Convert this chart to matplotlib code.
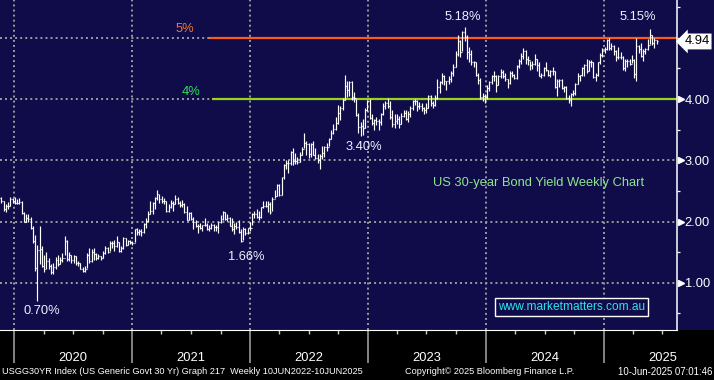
import numpy as np
import pandas as pd
import matplotlib
matplotlib.use('Agg')
import matplotlib.pyplot as plt
import matplotlib.dates as mdates
from matplotlib.patches import Rectangle
from matplotlib.transforms import blended_transform_factory

plt.rcParams['font.family'] = ['Liberation Sans', 'DejaVu Sans']

# Weekly bars of USGG30YR (week ending Friday)
first_week = '2019-11-22'
first_open = 2.38

high_2019 = [2.40, 2.34, 2.28, 2.32, 2.40, 2.38]
low_2019 = [2.30, 2.18, 2.16, 2.20, 2.25, 2.30]
close_2019 = [2.34, 2.21, 2.26, 2.25, 2.36, 2.33]

high_2020 = [2.40, 2.36, 2.38, 2.33, 2.15, 2.13, 2.12, 2.07, 1.92, 1.78, 1.62, 1.92, 1.60,
             1.45, 1.50, 1.40, 1.30, 1.32, 1.42, 1.45, 1.42, 1.48, 1.76, 1.70, 1.50, 1.46,
             1.45, 1.43, 1.36, 1.33, 1.26, 1.28, 1.48, 1.57, 1.55, 1.56, 1.48, 1.47, 1.44,
             1.52, 1.60, 1.58, 1.68, 1.68, 1.70, 1.77, 1.67, 1.60, 1.75, 1.73, 1.70, 1.70]
low_2020 = [2.28, 2.28, 2.28, 2.12, 1.99, 1.99, 2.00, 1.88, 1.65, 1.20, 0.70, 1.30, 1.25,
            1.18, 1.22, 1.23, 1.14, 1.15, 1.22, 1.28, 1.30, 1.34, 1.45, 1.36, 1.35, 1.32,
            1.33, 1.29, 1.28, 1.22, 1.17, 1.17, 1.24, 1.33, 1.34, 1.38, 1.38, 1.39, 1.38,
            1.40, 1.47, 1.48, 1.52, 1.56, 1.52, 1.58, 1.50, 1.51, 1.55, 1.60, 1.61, 1.64]
close_2020 = [2.30, 2.31, 2.32, 2.14, 2.00, 2.05, 2.04, 1.90, 1.68, 1.24, 1.53, 1.55, 1.27,
              1.23, 1.35, 1.28, 1.17, 1.26, 1.38, 1.31, 1.37, 1.41, 1.68, 1.39, 1.46, 1.37,
              1.43, 1.33, 1.32, 1.23, 1.19, 1.23, 1.45, 1.35, 1.51, 1.47, 1.41, 1.44, 1.40,
              1.48, 1.57, 1.51, 1.65, 1.65, 1.60, 1.66, 1.52, 1.57, 1.73, 1.62, 1.68, 1.66]

high_2021 = [1.68, 1.88, 1.90, 1.88, 1.87, 1.98, 2.05, 2.18, 2.34, 2.32, 2.40, 2.51, 2.45,
             2.42, 2.38, 2.34, 2.28, 2.35, 2.34, 2.43, 2.40, 2.33, 2.35, 2.30, 2.25, 2.15,
             2.15, 2.07, 2.03, 1.96, 1.98, 1.95, 2.06, 1.98, 1.94, 1.97, 1.96, 1.95, 2.00,
             2.11, 2.17, 2.15, 2.13, 2.07, 2.05, 1.98, 1.99, 2.02, 1.88, 1.91, 1.90, 1.90, 1.99]
low_2021 = [1.62, 1.66, 1.78, 1.78, 1.76, 1.81, 1.90, 2.00, 2.12, 2.13, 2.20, 2.35, 2.30,
            2.30, 2.28, 2.15, 2.16, 2.22, 2.18, 2.28, 2.28, 2.24, 2.24, 2.14, 2.02, 2.03,
            2.03, 1.88, 1.91, 1.82, 1.87, 1.84, 1.93, 1.86, 1.85, 1.88, 1.85, 1.84, 1.82,
            1.98, 2.03, 2.02, 2.01, 1.92, 1.85, 1.80, 1.88, 1.82, 1.66, 1.70, 1.78, 1.80, 1.85]
close_2021 = [1.65, 1.87, 1.83, 1.84, 1.83, 1.96, 2.01, 2.13, 2.17, 2.30, 2.38, 2.45, 2.37,
              2.33, 2.33, 2.17, 2.24, 2.30, 2.28, 2.36, 2.31, 2.27, 2.29, 2.15, 2.02, 2.14,
              2.04, 1.99, 1.92, 1.92, 1.90, 1.94, 1.94, 1.87, 1.90, 1.94, 1.91, 1.91, 1.99,
              2.04, 2.15, 2.04, 2.05, 1.93, 1.87, 1.93, 1.91, 1.83, 1.68, 1.88, 1.82, 1.89, 1.90]

high_2022 = [2.14, 2.17, 2.20, 2.17, 2.24, 2.34, 2.33, 2.34, 2.32, 2.40, 2.52, 2.61, 2.62,
             2.73, 2.94, 3.01, 3.00, 3.15, 3.20, 3.12, 3.06, 3.14, 3.21, 3.45, 3.32, 3.28,
             3.28, 3.32, 3.20, 3.10, 3.10, 3.24, 3.24, 3.28, 3.37, 3.50, 3.60, 3.70, 3.91,
             3.88, 4.02, 4.40, 4.30, 4.30, 4.30, 4.12, 4.00, 3.78, 3.62, 3.68, 3.85, 3.98]
low_2022 = [1.94, 2.05, 2.05, 2.02, 2.05, 2.22, 2.23, 2.16, 2.12, 2.18, 2.38, 2.42, 2.42,
            2.44, 2.70, 2.86, 2.80, 2.93, 2.92, 2.94, 2.94, 2.97, 3.08, 3.20, 3.08, 3.04,
            3.05, 3.08, 3.02, 2.96, 2.86, 3.02, 3.05, 3.15, 3.24, 3.34, 3.43, 3.49, 3.60,
            3.66, 3.82, 3.98, 4.04, 4.05, 3.98, 3.95, 3.72, 3.45, 3.40, 3.42, 3.52, 3.80]
close_2022 = [2.12, 2.12, 2.07, 2.08, 2.23, 2.25, 2.25, 2.29, 2.16, 2.36, 2.42, 2.60, 2.44,
              2.72, 2.92, 2.95, 2.96, 3.13, 2.99, 2.99, 2.97, 3.09, 3.19, 3.28, 3.26, 3.11,
              3.27, 3.09, 3.04, 3.01, 3.07, 3.12, 3.22, 3.22, 3.35, 3.45, 3.51, 3.61, 3.78,
              3.85, 3.99, 4.22, 4.15, 4.28, 4.03, 4.02, 3.74, 3.55, 3.56, 3.52, 3.82, 3.97]

high_2023 = [4.00, 3.76, 3.67, 3.70, 3.68, 3.78, 3.93, 3.96, 4.02, 3.97, 3.82, 3.75, 3.76,
             3.72, 3.78, 3.82, 3.82, 3.80, 3.88, 3.98, 4.00, 3.98, 3.95, 3.93, 3.87, 3.93,
             4.07, 4.06, 3.96, 4.06, 4.33, 4.30, 4.42, 4.40, 4.30, 4.37, 4.45, 4.57, 4.78,
             5.05, 4.97, 5.11, 5.18, 5.04, 4.85, 4.80, 4.62, 4.60, 4.42, 4.35, 4.10, 4.08]
low_2023 = [3.68, 3.58, 3.50, 3.58, 3.50, 3.58, 3.74, 3.84, 3.86, 3.68, 3.55, 3.52, 3.60,
            3.53, 3.60, 3.70, 3.65, 3.62, 3.70, 3.82, 3.90, 3.80, 3.84, 3.81, 3.75, 3.78,
            3.85, 3.88, 3.85, 3.88, 4.00, 4.10, 4.25, 4.23, 4.14, 4.24, 4.28, 4.38, 4.52,
            4.70, 4.68, 4.78, 4.95, 4.66, 4.60, 4.55, 4.52, 4.38, 4.25, 4.00, 3.96, 3.94]
close_2023 = [3.69, 3.61, 3.65, 3.64, 3.62, 3.76, 3.88, 3.93, 3.88, 3.70, 3.60, 3.64, 3.67,
              3.60, 3.73, 3.78, 3.67, 3.76, 3.86, 3.96, 3.97, 3.88, 3.88, 3.85, 3.82, 3.86,
              4.05, 3.93, 3.91, 4.02, 4.20, 4.28, 4.38, 4.29, 4.29, 4.33, 4.42, 4.52, 4.73,
              4.95, 4.77, 5.09, 5.02, 4.77, 4.73, 4.60, 4.60, 4.40, 4.31, 4.03, 4.05, 4.03]

high_2024 = [4.23, 4.30, 4.39, 4.45, 4.40, 4.40, 4.49, 4.47, 4.42, 4.33, 4.45, 4.46, 4.41,
             4.56, 4.66, 4.75, 4.83, 4.80, 4.70, 4.62, 4.62, 4.73, 4.66, 4.60, 4.42, 4.52,
             4.60, 4.48, 4.47, 4.52, 4.45, 4.32, 4.33, 4.32, 4.22, 4.22, 4.06, 4.10, 4.15,
             4.26, 4.42, 4.40, 4.53, 4.58, 4.65, 4.64, 4.63, 4.60, 4.42, 4.61, 4.75, 4.84]
low_2024 = [4.00, 4.13, 4.25, 4.30, 4.12, 4.23, 4.34, 4.35, 4.29, 4.18, 4.25, 4.36, 4.32,
            4.33, 4.50, 4.58, 4.66, 4.58, 4.56, 4.48, 4.49, 4.56, 4.45, 4.37, 4.34, 4.38,
            4.45, 4.38, 4.36, 4.40, 4.18, 4.05, 4.19, 4.16, 4.12, 4.00, 3.93, 3.89, 4.05,
            4.06, 4.24, 4.30, 4.37, 4.38, 4.42, 4.45, 4.52, 4.35, 4.30, 4.38, 4.58, 4.68]
close_2024 = [4.18, 4.28, 4.38, 4.37, 4.23, 4.37, 4.44, 4.37, 4.32, 4.26, 4.43, 4.39, 4.34,
              4.54, 4.62, 4.71, 4.78, 4.66, 4.64, 4.55, 4.57, 4.65, 4.55, 4.38, 4.39, 4.51,
              4.47, 4.40, 4.45, 4.45, 4.20, 4.30, 4.31, 4.18, 4.20, 4.02, 3.98, 4.09, 4.10,
              4.25, 4.38, 4.39, 4.51, 4.55, 4.46, 4.60, 4.60, 4.36, 4.40, 4.60, 4.72, 4.82]

high_2025 = [4.85, 4.98, 5.00, 4.92, 4.88, 4.80, 4.85, 4.76, 4.70, 4.66, 4.65, 4.66,
             4.72, 4.65, 4.99, 4.88, 4.92, 4.82, 4.84, 4.98, 5.15, 5.05, 5.00, 4.97]
low_2025 = [4.75, 4.80, 4.80, 4.80, 4.72, 4.62, 4.66, 4.65, 4.48, 4.45, 4.53, 4.55,
            4.59, 4.34, 4.30, 4.75, 4.68, 4.62, 4.73, 4.80, 4.90, 4.88, 4.83, 4.90]
close_2025 = [4.82, 4.96, 4.84, 4.86, 4.79, 4.69, 4.69, 4.68, 4.50, 4.62, 4.62, 4.58,
              4.63, 4.41, 4.86, 4.81, 4.71, 4.79, 4.82, 4.89, 5.04, 4.92, 4.96, 4.94]

last_value = 4.94
level_lines = [5.0, 4.0]
level_start = ['2021-08-27', '2021-09-05']
# (text, date, value) for the level tags
level_tags = [('5%', '2021-06-13', 5.144), ('4%', '2021-07-03', 4.123)]

# (text, date, value)
callouts = [('5.18%', '2023-10-22', 5.34),
            ('5.15%', '2025-04-16', 5.34),
            ('3.40%', '2022-12-18', 3.217),
            ('1.66%', '2021-12-20', 1.413),
            ('0.70%', '2020-03-25', 0.540)]

years = [2020, 2021, 2022, 2023, 2024, 2025]
right_ticks = [1.0, 2.0, 3.0, 4.0]

footer_left = 'USGG30YR Index (US Generic Govt 30 Yr) Graph 217  Weekly 10JUN2022-10JUN2025'
footer_mid = 'Copyright\u00a9 2025 Bloomberg Finance L.P.'
footer_right = '10-Jun-2025 07:01:46'

NAVY = '#0f0c49'
GRID = '#9c9c9c'

highs = high_2019 + high_2020 + high_2021 + high_2022 + high_2023 + high_2024 + high_2025
lows = low_2019 + low_2020 + low_2021 + low_2022 + low_2023 + low_2024 + low_2025
closes = close_2019 + close_2020 + close_2021 + close_2022 + close_2023 + close_2024 + close_2025
opens = [first_open] + closes[:-1]

dates = pd.date_range(first_week, periods=len(closes), freq='W-FRI')
x = mdates.date2num(dates)

fig = plt.figure(figsize=(7.14, 3.80), dpi=100, facecolor=NAVY)
fig.patches.append(Rectangle((0, 0), 1, 50 / 380, transform=fig.transFigure,
                             facecolor='black', edgecolor='none', zorder=-5))
ax = fig.add_axes([0, 50 / 380, 677 / 714, 330 / 380])
ax.set_facecolor(NAVY)

ax.set_xlim(mdates.date2num(pd.Timestamp('2019-11-18')), mdates.date2num(pd.Timestamp('2025-08-15')))
ax.set_ylim(0.229, 5.617)

# dotted grid
for v in [1, 2, 3, 4, 5]:
    ax.axhline(v, color=GRID, lw=1.4, ls=(0, (1, 1.6)), zorder=1)
for yr in years:
    ax.axvline(mdates.date2num(pd.Timestamp(f'{yr}-01-01')), color=GRID, lw=1.4, ls=(0, (1, 1.6)), zorder=1)

# level lines
for lvl, start, col in zip(level_lines, level_start, ['#ff5a14', '#96d21e']):
    ax.hlines(lvl, mdates.date2num(pd.Timestamp(start)), ax.get_xlim()[1], color=col, lw=1.6, zorder=2)
for (txt, d, v), tcol in zip(level_tags, ['#ec7a34', '#2ee05a']):
    ax.text(mdates.date2num(pd.Timestamp(d)), v, txt, color=tcol, fontsize=9.3, ha='center', va='center')

# OHLC bars
ax.vlines(x, lows, highs, color='white', lw=0.85, zorder=3)
ax.hlines(opens, x - 3, x, color='white', lw=0.85, zorder=3)
ax.hlines(closes, x, x + 3, color='white', lw=0.85, zorder=3)

for txt, d, v in callouts:
    ax.text(mdates.date2num(pd.Timestamp(d)), v, txt, color='#eef0ff', fontsize=9.3,
            ha='center', va='center', zorder=4)

ax.text(mdates.date2num(pd.Timestamp('2024-06-13')), 2.629, 'US 30-year Bond Yield Weekly Chart',
        color='#8ee58e', fontsize=9.3, ha='center', va='center')
ax.text(mdates.date2num(pd.Timestamp('2024-09-23')), 0.605, 'www.marketmatters.com.au',
        color='#2fe3ee', fontsize=8.6, ha='center', va='center',
        bbox=dict(boxstyle='square,pad=0.25', fc=NAVY, ec='white', lw=1))

# spines
for s in ['left', 'top']:
    ax.spines[s].set_visible(False)
ax.spines['right'].set_color('white')
ax.spines['right'].set_linewidth(1.1)
ax.spines['bottom'].set_color('white')
ax.spines['bottom'].set_linewidth(0.8)

# right axis
ax.yaxis.tick_right()
ax.set_yticks(right_ticks)
ax.set_yticklabels([f'{v:.2f}' for v in right_ticks])
ax.set_yticks([0.5, 1.5, 2.5, 3.5, 4.5, 5.0, 5.5], minor=True)
ax.tick_params(axis='y', which='major', length=0, pad=5.5, labelcolor='white', labelsize=9.3)
ax.tick_params(axis='y', which='minor', length=2.5, width=0.9, color='white')
tr = blended_transform_factory(ax.transAxes, ax.transData)
ax.plot([1.0055] * len(right_ticks), right_ticks, ls='none', marker='>', ms=4.5,
        color='white', transform=tr, clip_on=False)
ax.text(1.0295, last_value, f'{last_value:.2f}', transform=tr, color='black', fontsize=9.3,
        ha='center', va='center', bbox=dict(boxstyle='larrow,pad=0.15', fc='white', ec='none'))

# time axis
ax.xaxis.set_major_locator(mdates.YearLocator())
ax.xaxis.set_minor_locator(mdates.MonthLocator(bymonth=[4, 7, 10]))
ax.xaxis.set_major_formatter(plt.NullFormatter())
ax.tick_params(axis='x', which='major', length=24, width=1.1, color='#a8a8a8', direction='out')
ax.tick_params(axis='x', which='minor', length=3, width=1.0, color='#c8c8c8', direction='out')
trx = blended_transform_factory(ax.transData, ax.transAxes)
for yr in years:
    ax.text(mdates.date2num(pd.Timestamp(f'{yr}-07-02')), -0.085, str(yr), transform=trx,
            color='white', fontsize=9.3, ha='center', va='center')

fig.text(2 / 714, 8 / 380, footer_left, color='white', fontsize=6.6, ha='left', va='center')
fig.text(490 / 714, 8 / 380, footer_mid, color='white', fontsize=6.6, ha='center', va='center')
fig.text(712 / 714, 8 / 380, footer_right, color='white', fontsize=6.9, ha='right', va='center')

fig.savefig('out.png', dpi=100, facecolor=fig.get_facecolor())
